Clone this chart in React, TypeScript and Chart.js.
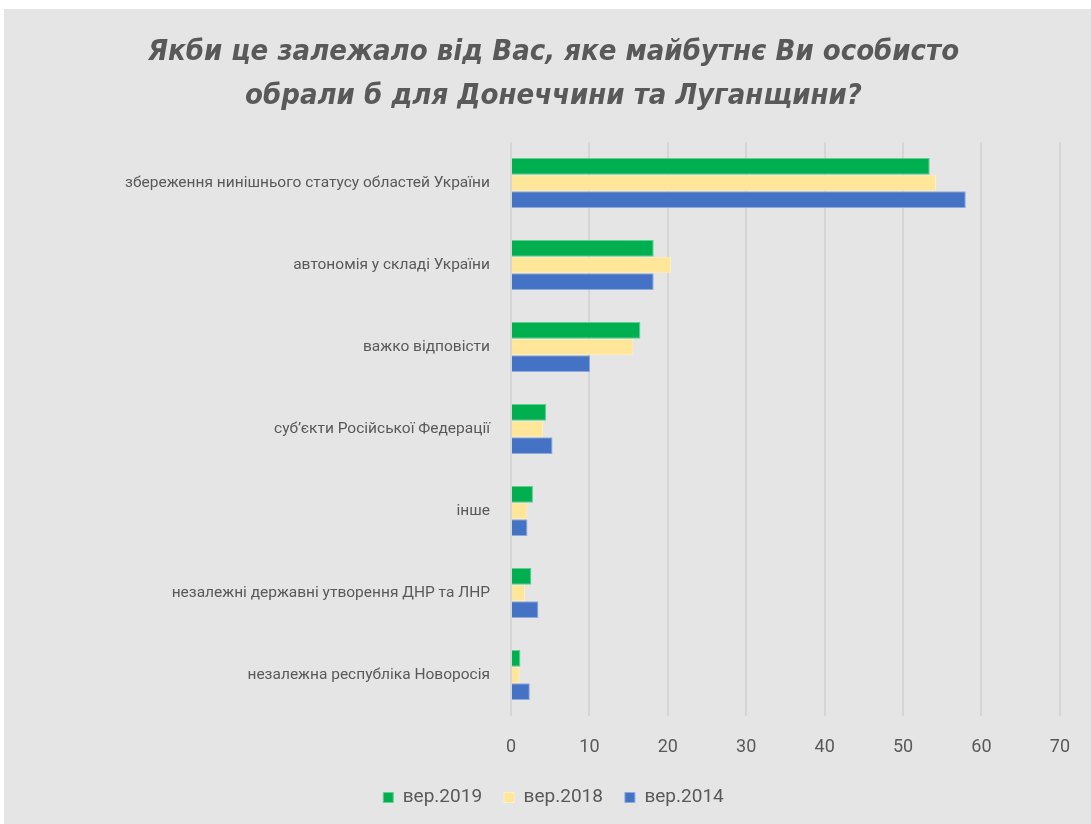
import React, { useEffect, useRef } from "react";
import { Chart, registerables } from "chart.js";

Chart.register(...registerables);

const categories = [
  "збереження нинішнього статусу областей України",
  "автономія у складі України",
  "важко відповісти",
  "суб’єкти Російської Федерації",
  "інше",
  "незалежні державні утворення ДНР та ЛНР",
  "незалежна республіка Новоросія",
];

const series2019 = [53.4, 18.2, 16.5, 4.5, 2.8, 2.6, 1.2];
const series2018 = [54.2, 20.4, 15.6, 4.1, 2.1, 1.8, 1.1];
const series2014 = [58.0, 18.2, 10.1, 5.3, 2.1, 3.5, 2.4];

const seriesLabels = ["вер.2019", "вер.2018", "вер.2014"];
const titleLines = [
  "Якби це залежало від Вас, яке майбутнє Ви особисто",
  "обрали б для Донеччини та Луганщини?",
];

const TEXT = "#595959";
const TITLE_FONT = "'DejaVu Sans Condensed', 'Liberation Sans', sans-serif";
const LABEL_FONT = "Roboto, 'Liberation Sans', sans-serif";

export default function App() {
  const ref = useRef<HTMLCanvasElement | null>(null);

  useEffect(() => {
    if (!ref.current) return;
    const chart = new Chart(ref.current, {
      type: "bar",
      data: {
        labels: categories,
        datasets: [
          { label: seriesLabels[0], data: series2019, backgroundColor: "#00B050", borderColor: "#5fd08f", borderWidth: 1 },
          { label: seriesLabels[1], data: series2018, backgroundColor: "#FFE699", borderColor: "#fff0c2", borderWidth: 1 },
          { label: seriesLabels[2], data: series2014, backgroundColor: "#4472C4", borderColor: "#8fa9da", borderWidth: 1 },
        ],
      },
      options: {
        indexAxis: "y",
        responsive: false,
        animation: false,
        datasets: { bar: { categoryPercentage: 0.61, barPercentage: 1 } },
        layout: { padding: { left: 12, right: 0, top: 0, bottom: 7 } },
        plugins: {
          title: {
            display: true,
            text: titleLines,
            color: TEXT,
            font: { family: TITLE_FONT, size: 29, weight: "bold", style: "italic", lineHeight: 1.5 },
            padding: { top: 22, bottom: 24 },
          },
          legend: {
            position: "bottom",
            labels: {
              color: TEXT,
              font: { family: LABEL_FONT, size: 19 },
              boxWidth: 10,
              boxHeight: 10,
              padding: 22,
            },
          },
          tooltip: { enabled: false },
        },
        scales: {
          x: {
            min: 0,
            max: 70,
            ticks: { stepSize: 10, color: TEXT, font: { family: LABEL_FONT, size: 18 }, padding: 21 },
            grid: { color: "#d5d5d5", lineWidth: 2, drawTicks: false },
            border: { display: false },
            afterFit: (s: any) => { s.height = 50; },
          },
          y: {
            ticks: { color: TEXT, font: { family: LABEL_FONT, size: 15.5 }, padding: 21 },
            grid: { display: false, drawTicks: false },
            border: { display: false },
            afterFit: (s: any) => { s.width = 495; },
          },
          yRight: {
            type: "category",
            position: "right",
            display: true,
            ticks: { display: false },
            grid: { display: false, drawTicks: false },
            border: { display: false },
            afterFit: (s: any) => { s.width = 31; },
          },
        },
      },
    });
    return () => chart.destroy();
  }, []);

  return (
    <div style={{ position: "absolute", left: 4, top: 9, width: 1087, height: 815, background: "#e5e5e5" }}>
      <canvas ref={ref} width={1087} height={815} />
    </div>
  );
}
